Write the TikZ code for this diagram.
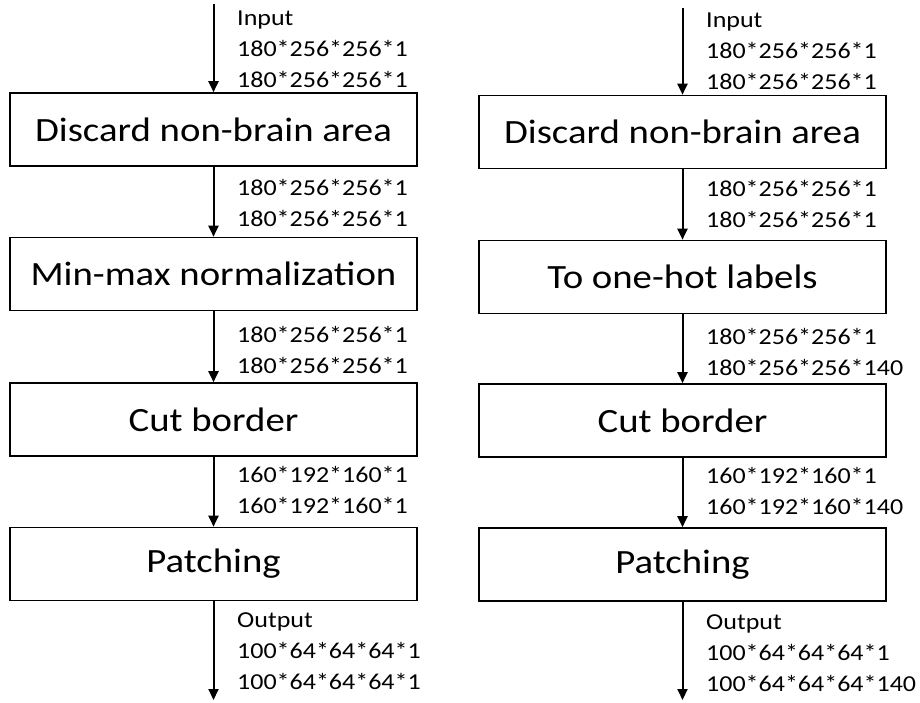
\documentclass[tikz,border=0pt]{standalone}
\usepackage{fontspec}
\setmainfont{Carlito}[FakeStretch=1.14]
\usetikzlibrary{arrows.meta}
\begin{document}
\begin{tikzpicture}[x=1pt,y=-1pt,
  stage/.style={draw, line width=1.6pt, minimum width=407pt, minimum height=73pt,
    inner sep=0pt, font=\fontsize{34}{40}\selectfont},
  flow/.style={line width=2pt, -{Triangle[width=10pt,length=11pt]}},
  dims/.style={anchor=base west, inner sep=0pt, align=left,
    font=\fontsize{22.8}{31}\selectfont}]
\useasboundingbox (0,0) rectangle (920,703);

% left pipeline: image volumes
\node[stage] (l1) at (213.5,129.5) {Discard non-brain area};
\node[stage] (l2) at (213.5,274)   {Min-max normalization};
\node[stage] (l3) at (213.5,419.5) {Cut border};
\node[stage] (l4) at (213.5,564)   {Patching};
\coordinate (lin)  at (213.5,4);
\coordinate (lout) at (213.5,700);

\draw[flow] (lin) -- (l1.north);
\draw[flow] (l1) -- (l2);
\draw[flow] (l2) -- (l3);
\draw[flow] (l3) -- (l4);
\draw[flow] (l4.south) -- (lout);

% each label is placed by the baseline of its last line
\node[dims] (ld0) at (237,88)  {Input\\180*256*256*1\\180*256*256*1};
\node[dims] (ld1) at (237,227) {180*256*256*1\\180*256*256*1};
\node[dims] (ld2) at (237,373) {180*256*256*1\\180*256*256*1};
\node[dims] (ld3) at (237,513) {160*192*160*1\\160*192*160*1};
\node[dims] (ld4) at (237,689) {Output\\100*64*64*64*1\\100*64*64*64*1};

% right pipeline: label volumes
\node[stage] (r1) at (682.5,132)   {Discard non-brain area};
\node[stage] (r2) at (682.5,277)   {To one-hot labels};
\node[stage] (r3) at (682.5,420.5) {Cut border};
\node[stage] (r4) at (682.5,564.5) {Patching};
\coordinate (rin)  at (682.5,8);
\coordinate (rout) at (682.5,700);

\draw[flow] (rin) -- (r1.north);
\draw[flow] (r1) -- (r2);
\draw[flow] (r2) -- (r3);
\draw[flow] (r3) -- (r4);
\draw[flow] (r4.south) -- (rout);

\node[dims] (rd0) at (706,90)  {Input\\180*256*256*1\\180*256*256*1};
\node[dims] (rd1) at (706,228) {180*256*256*1\\180*256*256*1};
\node[dims] (rd2) at (706,375) {180*256*256*1\\180*256*256*140};
\node[dims] (rd3) at (706,514) {160*192*160*1\\160*192*160*140};
\node[dims] (rd4) at (706,691) {Output\\100*64*64*64*1\\100*64*64*64*140};
\end{tikzpicture}
\end{document}
